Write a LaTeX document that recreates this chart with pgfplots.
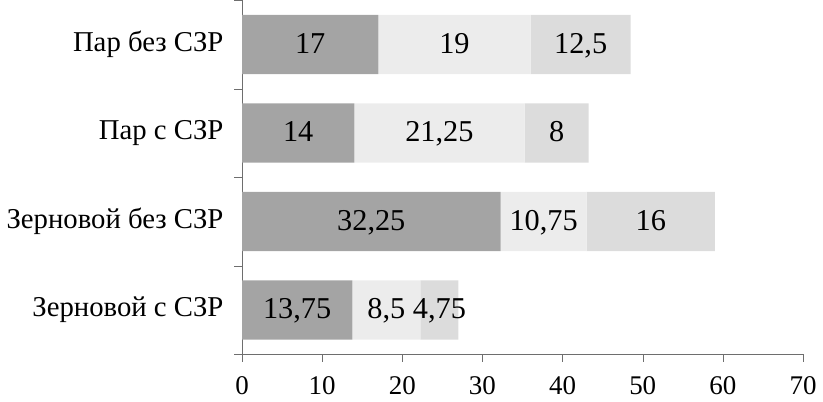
\documentclass[border=0pt]{standalone}
\usepackage{fontspec}
\setmainfont{Liberation Serif}
\usepackage{pgfplots}
\pgfplotsset{compat=1.18}

\definecolor{segA}{HTML}{A4A4A4}
\definecolor{segB}{HTML}{ECECEC}
\definecolor{segC}{HTML}{DCDCDC}
\definecolor{axisgray}{HTML}{6E6E6E}

\begin{document}
\begin{tikzpicture}[font=\fontsize{13.8}{16}\selectfont]
\begin{axis}[
    xbar stacked,
    scale only axis,
    width=287pt, height=181pt,
    xmin=0, xmax=70,
    xtick={0,10,...,70},
    ymin=-0.5, ymax=3.5,
    ytick={0,1,2,3},
    yticklabels={Зерновой с СЗР, Зерновой без СЗР, Пар с СЗР, Пар без СЗР},
    minor ytick={-0.5,0.5,1.5,2.5,3.5},
    axis lines*=left,
    axis line style={-, axisgray},
    tick align=outside,
    major tick length=4pt,
    minor tick length=4pt,
    tick style={axisgray},
    major y tick style={draw=none},
    yticklabel style={xshift=-2pt, font=\fontsize{14.7}{17}\selectfont},
    xticklabel style={yshift=-4pt},
    /pgf/number format/assume math mode=true,
    /pgf/number format/use comma,
    /pgf/number format/1000 sep={},
    bar width=0.67,
    point meta=rawx,
    nodes near coords,
    every node near coord/.append style={anchor=center, black, yshift=-2pt,
        font=\fontsize{15.5}{18}\selectfont, text height=1.45ex, text depth=0.35ex},
]
% order: Зерновой с СЗР, Зерновой без СЗР, Пар с СЗР, Пар без СЗР
\addplot[fill=segA, draw=none] coordinates {(13.75,0) (32.25,1) (14,2) (17,3)};
\addplot[fill=segB, draw=none] coordinates {(8.5,0) (10.75,1) (21.25,2) (19,3)};
\addplot[fill=segC, draw=none] coordinates {(4.75,0) (16,1) (8,2) (12.5,3)};
\end{axis}
\end{tikzpicture}
\end{document}
